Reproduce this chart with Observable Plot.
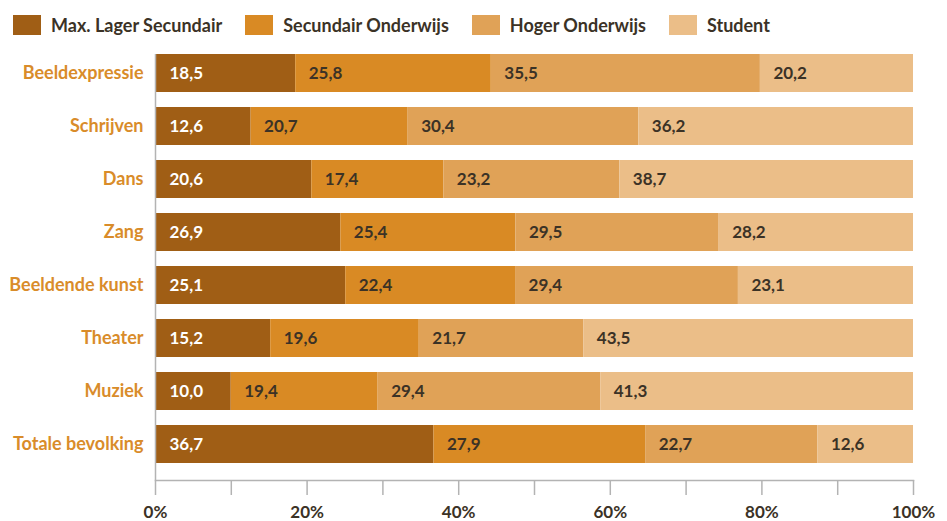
<!DOCTYPE html>
<html>
<head>
<meta charset="utf-8">
<script src="https://cdn.jsdelivr.net/npm/d3@7"></script>
<script src="https://cdn.jsdelivr.net/npm/@observablehq/plot@0.6"></script>
<style>
  body { margin: 0; background: #fff; font-family: Lato, "Open Sans", sans-serif; }
  #legend { height: 37px; display: flex; align-items: flex-start; padding-left: 13px; box-sizing: border-box; }
  .item { display: flex; align-items: center; margin-top: 15px; margin-right: 23px; }
  .sw { width: 28px; height: 20px; margin-right: 10px; }
  .lab { font-size: 18px; font-weight: bold; color: #3b3226; line-height: 20px; }
</style>
</head>
<body>
<div id="legend"></div>
<div id="chart"></div>
<script>
const categories = ["Beeldexpressie", "Schrijven", "Dans", "Zang", "Beeldende kunst", "Theater", "Muziek", "Totale bevolking"];
const series = ["Max. Lager Secundair", "Secundair Onderwijs", "Hoger Onderwijs", "Student"];
const maxLager   = [18.5, 12.6, 20.6, 26.9, 25.1, 15.2, 10.0, 36.7];
const secundair  = [25.8, 20.7, 17.4, 25.4, 22.4, 19.6, 19.4, 27.9];
const hoger      = [35.5, 30.4, 23.2, 29.5, 29.4, 21.7, 29.4, 22.7];
const student    = [20.2, 36.2, 38.7, 28.2, 23.1, 43.5, 41.3, 12.6];
const xTicks = [0, 10, 20, 30, 40, 50, 60, 70, 80, 90, 100];
const xLabels = [0, 20, 40, 60, 80, 100];
const colors = ["#a05e15", "#d98a24", "#e0a257", "#ebbe88"];

const valuesBySeries = [maxLager, secundair, hoger, student];
const rows = [];
categories.forEach((c, i) => {
  const total = d3.sum(valuesBySeries, vs => vs[i]);
  let acc = 0;
  series.forEach((s, j) => {
    const v = valuesBySeries[j][i];
    const share = v / total * 100; // stacked to 100%
    rows.push({cat: c, series: s, value: v, start: acc, end: acc + share, idx: j});
    acc += share;
  });
});
const fmt = v => v.toFixed(1).replace(".", ",");

// legend
const legend = document.getElementById("legend");
series.forEach((s, j) => {
  const it = document.createElement("div"); it.className = "item";
  const sw = document.createElement("div"); sw.className = "sw"; sw.style.background = colors[j];
  const lb = document.createElement("div"); lb.className = "lab"; lb.textContent = s;
  it.appendChild(sw); it.appendChild(lb); legend.appendChild(it);
});

const grey = "#b3b3b3";
const chart = Plot.plot({
  width: 947,
  height: 484,
  marginTop: 0,
  marginBottom: 41,
  marginLeft: 155,
  marginRight: 34,
  style: {fontFamily: "Lato, 'Open Sans', sans-serif", fontSize: "16px", fontWeight: "bold", color: "#3b3226", background: "#fff"},
  x: {domain: [0, 100]},
  y: {domain: categories, paddingInner: 0.283, paddingOuter: 0.32},
  color: {domain: series, range: colors},
  marks: [
    Plot.barX(rows, {x1: "start", x2: "end", y: "cat", fill: "series"}),
    Plot.text(rows.filter(d => d.idx === 0), {x: "start", y: "cat", text: d => fmt(d.value), textAnchor: "start", dx: 14, fill: "#ffffff", fontSize: 17, fontWeight: "bold"}),
    Plot.text(rows.filter(d => d.idx > 0), {x: "start", y: "cat", text: d => fmt(d.value), textAnchor: "start", dx: 13, fill: "#3b3226", fontSize: 17, fontWeight: "bold"}),
    Plot.ruleX([0], {stroke: grey, strokeWidth: 1.5, insetTop: 17}),
    Plot.frame({anchor: "bottom", stroke: grey, strokeWidth: 1.5}),
    Plot.axisX({ticks: xTicks, tickSize: 15, tickFormat: () => "", stroke: grey, strokeWidth: 1.5, label: null}),
    Plot.axisX({ticks: xLabels, tickSize: 0, tickPadding: 25, tickFormat: d => d + "%", fill: "#3b3226", fontSize: 17, fontWeight: "bold", label: null}),
    Plot.axisY({tickSize: 0, tickPadding: 12, fill: "#d98c2a", fontSize: 18, fontWeight: "bold", label: null})
  ]
});
document.getElementById("chart").appendChild(chart);
</script>
</body>
</html>
